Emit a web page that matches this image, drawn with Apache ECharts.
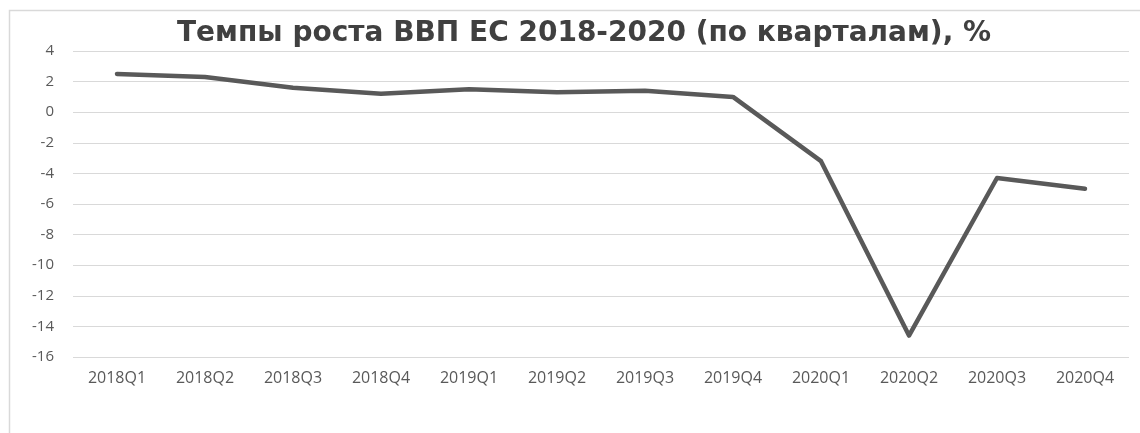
<!DOCTYPE html>
<html>
<head>
<meta charset="utf-8">
<script src="https://cdn.jsdelivr.net/npm/echarts@6/dist/echarts.min.js"></script>
<style>
  html, body { margin: 0; padding: 0; background: #ffffff; }
  #chart { width: 1140px; height: 433px; }
</style>
</head>
<body>
<div id="chart"></div>
<script>
// Quarterly EU GDP growth, %
const chartTitle = 'Темпы роста ВВП ЕС 2018-2020 (по кварталам), %';
const quarters = ['2018Q1', '2018Q2', '2018Q3', '2018Q4',
                  '2019Q1', '2019Q2', '2019Q3', '2019Q4',
                  '2020Q1', '2020Q2', '2020Q3', '2020Q4'];
const growth = [2.5, 2.3, 1.6, 1.2, 1.5, 1.3, 1.4, 1.0, -3.2, -14.6, -4.3, -5.0];
const yMin = -16;
const yMax = 4;
const yStep = 2;

const chart = echarts.init(document.getElementById('chart'), null, { renderer: 'canvas' });

chart.setOption({
  animation: false,
  backgroundColor: '#ffffff',
  graphic: [{
    type: 'rect',
    silent: true,
    shape: { x: 9.5, y: 10.5, width: 1300, height: 600 },
    style: { fill: 'none', stroke: '#d9d9d9', lineWidth: 1.5 }
  }],
  title: {
    text: chartTitle,
    left: 172,
    top: 15,
    textStyle: {
      fontFamily: 'DejaVu Sans',
      fontWeight: 'bold',
      fontSize: 28,
      color: '#404040'
    }
  },
  grid: { left: 73, right: 11, top: 51, bottom: 76, containLabel: false },
  xAxis: {
    type: 'category',
    data: quarters,
    boundaryGap: true,
    axisLine: { show: false },
    axisTick: { show: false },
    axisLabel: {
      fontFamily: 'Open Sans',
      fontSize: 16,
      color: '#595959',
      margin: 13
    },
    splitLine: { show: false }
  },
  yAxis: {
    type: 'value',
    min: yMin,
    max: yMax,
    interval: yStep,
    axisLine: { show: false },
    axisTick: { show: false },
    axisLabel: {
      fontFamily: 'Open Sans',
      fontSize: 15,
      color: '#595959',
      margin: 19
    },
    splitLine: { lineStyle: { color: '#d9d9d9', width: 1 } }
  },
  series: [{
    type: 'line',
    data: growth,
    symbol: 'none',
    lineStyle: { color: '#595959', width: 4.5, cap: 'round', join: 'round' }
  }]
});
</script>
</body>
</html>
